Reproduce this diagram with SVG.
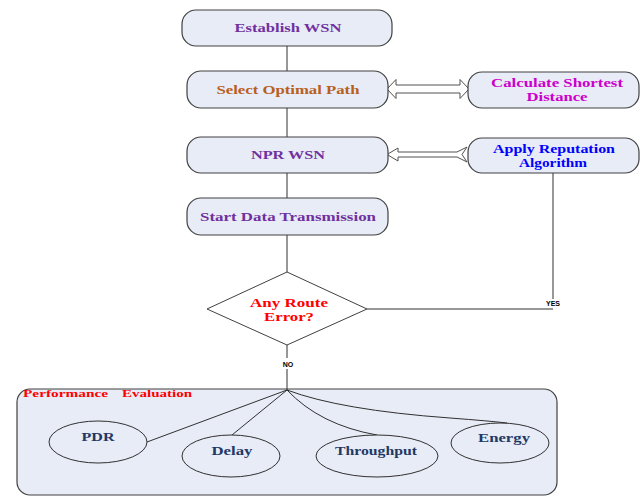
<svg xmlns="http://www.w3.org/2000/svg" width="642" height="496" viewBox="0 0 642 496">
<style>
.box{fill:#E8ECF7;stroke:#404040;stroke-width:1.2}
.ell{fill:#E8ECF7;stroke:#303030;stroke-width:1}
.ln{fill:none;stroke:#303030;stroke-width:1}
.arr{fill:#FFFFFF;stroke:#505050;stroke-width:1}
.t{font-family:"Liberation Serif","Times New Roman",serif;font-weight:bold;font-size:13px;text-anchor:middle}
.s2{font-size:11.5px}
.lbl{font-family:"Liberation Sans",Arial,sans-serif;font-weight:bold;font-size:7px;text-anchor:middle;fill:#000}
.pur{fill:#7030A0}
.brn{fill:#B8601B}
.mag{fill:#CC00CC}
.blu{fill:#0000FF}
.red{fill:#FF0000}
.nav{fill:#1F3864}
</style>
<rect width="642" height="496" fill="#FFFFFF"/>
<g id="performance">
<rect class="box" x="17" y="389" width="540" height="106" rx="13"/>
<text class="t red" x="23" y="397" style="text-anchor:start;font-size:11px" textLength="85" lengthAdjust="spacingAndGlyphs">Performance</text>
<text class="t red" x="122" y="397" style="text-anchor:start;font-size:11px" textLength="70" lengthAdjust="spacingAndGlyphs">Evaluation</text>
</g>
<g id="connectors">
<line class="ln" x1="287" y1="46" x2="287" y2="71"/>
<line class="ln" x1="287" y1="108" x2="287" y2="137"/>
<line class="ln" x1="287" y1="173" x2="287" y2="198"/>
<line class="ln" x1="287" y1="235" x2="287" y2="272"/>
<line class="ln" x1="287" y1="345" x2="287" y2="358"/>
<line class="ln" x1="287" y1="369" x2="287" y2="390"/>
<polyline class="ln" points="367,309 553,309"/>
<line class="ln" x1="553" y1="173" x2="553" y2="299"/>
<polygon class="arr" points="387,89 396,79.5 396,85 460,85 460,79.5 469,89 460,98.5 460,93 396,93 396,98.5"/>
<polygon class="arr" points="387,154.5 398,148 398,152 457,152 467,147 462,154.5 467,162 457,157 398,157 398,161"/>
<line class="ln" x1="287" y1="390" x2="147" y2="442"/>
<line class="ln" x1="287" y1="390" x2="232" y2="435"/>
<path class="ln" d="M287,390 Q320,425 377,435"/>
<path class="ln" d="M287,390 Q340,410 450,418 Q490,421 507,423"/>
<text class="lbl" x="553" y="306">YES</text>
<text class="lbl" x="288" y="367">NO</text>
</g>
<g id="establish">
<rect class="box" x="182" y="10" width="210" height="36" rx="14"/>
<text class="t pur" x="288" y="32" textLength="107" lengthAdjust="spacingAndGlyphs">Establish WSN</text>
</g>
<g id="select">
<rect class="box" x="187" y="71" width="201" height="37" rx="14"/>
<text class="t brn" x="288" y="94" textLength="143" lengthAdjust="spacingAndGlyphs">Select Optimal Path</text>
</g>
<g id="calculate">
<rect class="box" x="468" y="72" width="171" height="36" rx="14"/>
<text class="t s2 mag" x="557" y="86.5" textLength="132" lengthAdjust="spacingAndGlyphs">Calculate Shortest</text>
<text class="t s2 mag" x="557" y="100.5" textLength="61" lengthAdjust="spacingAndGlyphs">Distance</text>
</g>
<g id="npr">
<rect class="box" x="187" y="137" width="201" height="36" rx="14"/>
<text class="t pur" x="288" y="158.5" textLength="74" lengthAdjust="spacingAndGlyphs">NPR WSN</text>
</g>
<g id="apply">
<rect class="box" x="468" y="138" width="171" height="35" rx="14"/>
<text class="t s2 blu" x="554" y="152.5" textLength="122" lengthAdjust="spacingAndGlyphs">Apply  Reputation</text>
<text class="t s2 blu" x="553" y="166.5" textLength="68" lengthAdjust="spacingAndGlyphs">Algorithm</text>
</g>
<g id="start">
<rect class="box" x="187" y="198" width="201" height="37" rx="14"/>
<text class="t pur" x="288" y="221" textLength="176" lengthAdjust="spacingAndGlyphs">Start Data Transmission</text>
</g>
<g id="decision">
<polygon fill="#FFFFFF" stroke="#404040" stroke-width="1" points="287,272 367,309 287,345 207,309"/>
<text class="t s2 red" x="289" y="306.5" textLength="78" lengthAdjust="spacingAndGlyphs">Any Route</text>
<text class="t s2 red" x="289" y="320.5" textLength="50" lengthAdjust="spacingAndGlyphs">Error?</text>
</g>
<g id="pdr">
<ellipse class="ell" cx="98" cy="442" rx="49" ry="21"/>
<text class="t nav" x="98" y="441" textLength="33" lengthAdjust="spacingAndGlyphs">PDR</text>
</g>
<g id="delay">
<ellipse class="ell" cx="231" cy="456" rx="49" ry="21"/>
<text class="t nav" x="232" y="455" textLength="41" lengthAdjust="spacingAndGlyphs">Delay</text>
</g>
<g id="throughput">
<ellipse class="ell" cx="377" cy="456" rx="61" ry="21"/>
<text class="t nav" x="376" y="455" textLength="82" lengthAdjust="spacingAndGlyphs">Throughput</text>
</g>
<g id="energy">
<ellipse class="ell" cx="500" cy="443" rx="49" ry="20"/>
<text class="t nav" x="504" y="442" textLength="52" lengthAdjust="spacingAndGlyphs">Energy</text>
</g>
</svg>
